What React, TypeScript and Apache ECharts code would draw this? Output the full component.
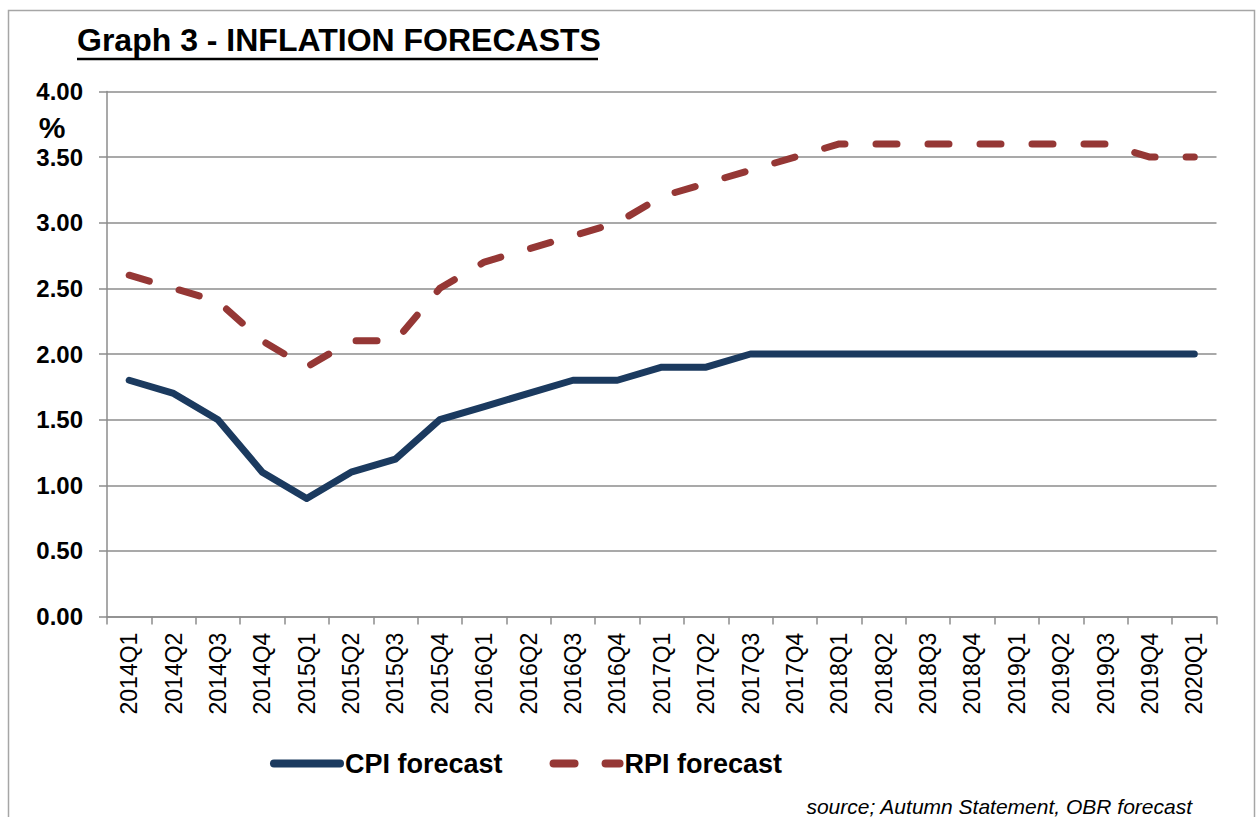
import React, { useEffect, useRef } from "react";
import * as echarts from "echarts";

const categories = [
  "2014Q1", "2014Q2", "2014Q3", "2014Q4",
  "2015Q1", "2015Q2", "2015Q3", "2015Q4",
  "2016Q1", "2016Q2", "2016Q3", "2016Q4",
  "2017Q1", "2017Q2", "2017Q3", "2017Q4",
  "2018Q1", "2018Q2", "2018Q3", "2018Q4",
  "2019Q1", "2019Q2", "2019Q3", "2019Q4",
  "2020Q1",
];

const cpiForecast = [
  1.8, 1.7, 1.5, 1.1,
  0.9, 1.1, 1.2, 1.5,
  1.6, 1.7, 1.8, 1.8,
  1.9, 1.9, 2.0, 2.0,
  2.0, 2.0, 2.0, 2.0,
  2.0, 2.0, 2.0, 2.0,
  2.0,
];

const rpiForecast = [
  2.6, 2.5, 2.4, 2.1,
  1.9, 2.1, 2.1, 2.5,
  2.7, 2.8, 2.9, 3.0,
  3.2, 3.3, 3.4, 3.5,
  3.6, 3.6, 3.6, 3.6,
  3.6, 3.6, 3.6, 3.5,
  3.5,
];

const titleText = "Graph 3 - INFLATION FORECASTS";
const sourceText = "source; Autumn Statement, OBR forecast";

const FONT = '"Liberation Sans", Arial, Helvetica, sans-serif';

export default function App() {
  const ref = useRef<HTMLDivElement>(null);

  useEffect(() => {
    if (!ref.current) return;
    const chart = echarts.init(ref.current, null, { renderer: "svg" });
    chart.setOption({
      animation: false,
      backgroundColor: "#ffffff",
      textStyle: { fontFamily: FONT },
      grid: { left: 107, right: 39.5, top: 91.4, bottom: 200.4, containLabel: false },
      legend: {
        left: 270,
        top: 750,
        padding: 0,
        itemWidth: 66,
        itemHeight: 14,
        itemGap: 47,
        textStyle: { fontFamily: FONT, fontSize: 27, fontWeight: "bold", color: "#000" },
        lineStyle: { width: 8, cap: "round" },
        itemStyle: { color: "rgba(0,0,0,0)", borderColor: "rgba(0,0,0,0)", borderWidth: 0, opacity: 0 },
        data: [
          { name: "CPI forecast" },
          { name: "RPI forecast" },
        ],
      },
      xAxis: {
        type: "category",
        data: categories,
        boundaryGap: true,
        axisLine: { show: true, lineStyle: { color: "#8c8c8c", width: 1.5 } },
        axisTick: { show: true, length: 8, lineStyle: { color: "#8c8c8c", width: 1.5 } },
        axisLabel: {
          rotate: 90,
          interval: 0,
          margin: 16,
          fontFamily: FONT,
          fontSize: 23,
          color: "#000",
        },
        splitLine: { show: false },
      },
      yAxis: {
        type: "value",
        min: 0,
        max: 4,
        interval: 0.5,
        axisLine: { show: true, lineStyle: { color: "#8c8c8c", width: 1.5 } },
        axisTick: { show: true, length: 8, lineStyle: { color: "#8c8c8c", width: 1.5 } },
        axisLabel: {
          margin: 24,
          fontFamily: FONT,
          fontSize: 24,
          fontWeight: "bold",
          color: "#000",
          formatter: (v: number) => v.toFixed(2),
        },
        splitLine: { show: true, lineStyle: { color: "#8c8c8c", width: 1.5 } },
      },
      series: [
        {
          name: "CPI forecast",
          type: "line",
          data: cpiForecast,
          symbol: "none",
          showSymbol: false,
          lineStyle: { color: "#1b3a5f", width: 7, cap: "round", join: "round" },
          itemStyle: { color: "#1b3a5f" },
          z: 3,
        },
        {
          name: "RPI forecast",
          type: "line",
          data: rpiForecast,
          symbol: "none",
          showSymbol: false,
          lineStyle: { color: "#953735", width: 7, type: [21, 31], cap: "round", join: "round" },
          itemStyle: { color: "#953735" },
          z: 3,
        },
      ],
      graphic: [
        {
          type: "rect",
          shape: { x: 8.5, y: 10.5, width: 1246, height: 830 },
          style: { fill: "none", stroke: "#a6a6a6", lineWidth: 1.5 },
          silent: true,
          z: -1,
        },
        {
          type: "text",
          x: 77,
          y: 40,
          style: {
            text: titleText,
            font: `bold 32px ${FONT}`,
            fill: "#000",
            textAlign: "left",
            textVerticalAlign: "middle",
          },
        },
        {
          type: "line",
          shape: { x1: 77, y1: 59, x2: 598, y2: 59 },
          style: { stroke: "#000", lineWidth: 2.5 },
        },
        {
          type: "text",
          x: 52,
          y: 127,
          style: {
            text: "%",
            font: `bold 30px ${FONT}`,
            fill: "#000",
            textAlign: "center",
            textVerticalAlign: "middle",
          },
        },
        {
          type: "text",
          x: 1192,
          y: 806,
          style: {
            text: sourceText,
            font: `italic 21px ${FONT}`,
            fill: "#000",
            textAlign: "right",
            textVerticalAlign: "middle",
          },
        },
      ],
    });
    return () => chart.dispose();
  }, []);

  return (
    <div
      ref={ref}
      style={{ position: "fixed", left: 0, top: 0, width: 1256, height: 817, overflow: "hidden" }}
    />
  );
}
